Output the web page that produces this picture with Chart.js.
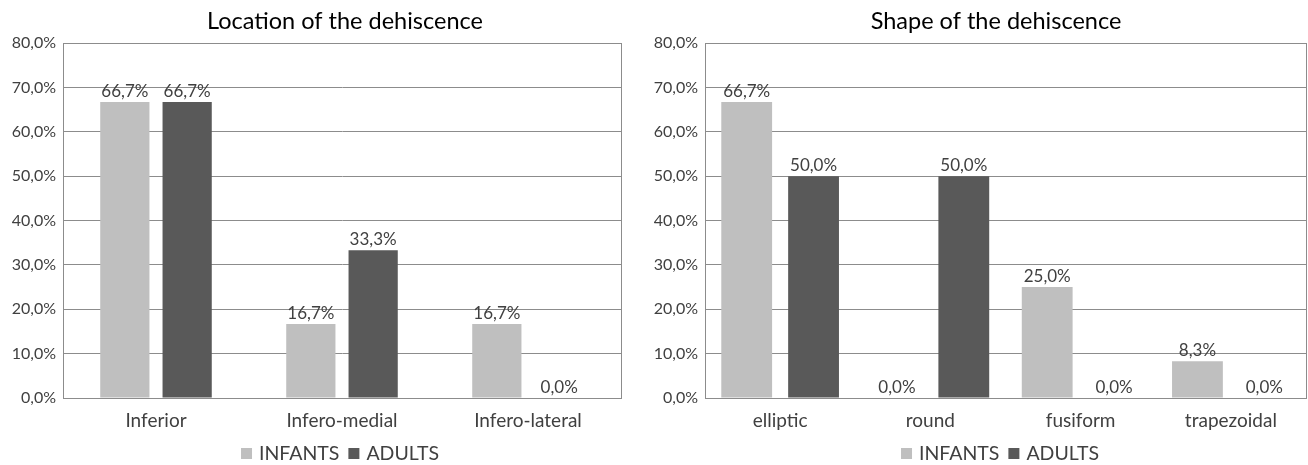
<!DOCTYPE html>
<html>
<head>
<meta charset="utf-8">
<script src="https://cdn.jsdelivr.net/npm/chart.js@4/dist/chart.umd.min.js"></script>
<style>
  html, body { margin: 0; padding: 0; background: #ffffff; }
  #wrap { display: flex; width: 1308px; height: 465px; }
  .box { position: relative; width: 654px; height: 465px; }
</style>
</head>
<body>
<div id="wrap">
  <div class="box"><canvas id="locChart"></canvas></div>
  <div class="box"><canvas id="shapeChart"></canvas></div>
</div>
<script>
// Location of the dehiscence
const locationCategories = ['Inferior', 'Infero-medial', 'Infero-lateral'];
const locationInfants = [66.7, 16.7, 16.7];
const locationAdults = [66.7, 33.3, 0.0];

// Shape of the dehiscence
const shapeCategories = ['elliptic', 'round', 'fusiform', 'trapezoidal'];
const shapeInfants = [66.7, 0.0, 25.0, 8.3];
const shapeAdults = [50.0, 50.0, 0.0, 0.0];

const seriesNames = ['INFANTS', 'ADULTS'];
const yTickValues = [0, 10, 20, 30, 40, 50, 60, 70, 80];

const FONT = 'Lato, "Open Sans", sans-serif';
const TEXT = '#404040';
const GRID = '#8c8c8c';
const INFANT_COLOR = '#bfbfbf';
const ADULT_COLOR = '#595959';

const pct = v => v.toFixed(1).replace('.', ',') + '%';

// Value labels written above each bar
const valueLabels = {
  id: 'valueLabels',
  afterDatasetsDraw(chart) {
    const ctx = chart.ctx;
    ctx.save();
    ctx.font = '17px ' + FONT;
    ctx.fillStyle = TEXT;
    ctx.textAlign = 'center';
    ctx.textBaseline = 'alphabetic';
    chart.data.datasets.forEach((ds, i) => {
      const meta = chart.getDatasetMeta(i);
      meta.data.forEach((bar, j) => {
        ctx.fillText(pct(ds.data[j]), bar.x, bar.y - 5);
      });
    });
    ctx.restore();
  }
};

// Frame around the plotting area
const plotFrame = {
  id: 'plotFrame',
  afterDraw(chart) {
    const a = chart.chartArea;
    const ctx = chart.ctx;
    ctx.save();
    ctx.strokeStyle = GRID;
    ctx.lineWidth = 1;
    ctx.strokeRect(Math.round(a.left) + 0.5, Math.round(a.top) + 0.5,
                   Math.round(a.right - a.left), Math.round(a.bottom - a.top));
    ctx.restore();
  }
};

// Chart title and series key (placed at fixed centres)
const headerAndKey = {
  id: 'headerAndKey',
  afterDraw(chart, args, o) {
    const ctx = chart.ctx;
    ctx.save();
    ctx.fillStyle = '#000000';
    ctx.font = '23.5px ' + FONT;
    ctx.textAlign = 'center';
    ctx.textBaseline = 'alphabetic';
    ctx.fillText(o.title, o.titleX, 29);

    ctx.font = '19.5px ' + FONT;
    ctx.textAlign = 'left';
    const box = 11, gapText = 7, gapItem = 9;
    const items = chart.data.datasets.map(ds => ({
      text: ds.label, color: ds.backgroundColor, w: ctx.measureText(ds.label).width
    }));
    let total = 0;
    items.forEach((it, i) => { total += box + gapText + it.w + (i < items.length - 1 ? gapItem : 0); });
    let x = o.keyX - total / 2;
    const base = 460;
    items.forEach(it => {
      ctx.fillStyle = it.color;
      ctx.fillRect(x, base - 12, box, box);
      x += box + gapText;
      ctx.fillStyle = TEXT;
      ctx.fillText(it.text, x, base);
      x += it.w + gapItem;
    });
    ctx.restore();
  }
};

function makeChart(id, title, cats, infants, adults, opts) {
  return new Chart(document.getElementById(id), {
    type: 'bar',
    data: {
      labels: cats,
      datasets: [
        { label: seriesNames[0], data: infants, backgroundColor: INFANT_COLOR,
          categoryPercentage: opts.cp, barPercentage: opts.bp },
        { label: seriesNames[1], data: adults, backgroundColor: ADULT_COLOR,
          categoryPercentage: opts.cp, barPercentage: opts.bp }
      ]
    },
    options: {
      responsive: false,
      animation: false,
      devicePixelRatio: 1,
      layout: { padding: { left: 0, right: opts.padRight, top: 43, bottom: 27 } },
      plugins: {
        tooltip: { enabled: false },
        title: { display: false },
        legend: { display: false },
        headerAndKey: { title: title, titleX: opts.titleX, keyX: opts.keyX }
      },
      scales: {
        x: {
          afterFit(scale) { scale.height = 40; },
          grid: { display: false },
          border: { display: true, color: GRID },
          ticks: { color: TEXT, font: { family: FONT, size: 19 }, padding: 3 }
        },
        y: {
          min: 0, max: 80,
          afterBuildTicks(scale) { scale.ticks = yTickValues.map(v => ({ value: v })); },
          afterFit(scale) { scale.width = opts.axisWidth; },
          grid: { color: GRID, drawTicks: false },
          border: { display: true, color: GRID },
          ticks: { color: TEXT, font: { family: FONT, size: 16 }, padding: 7,
                   callback: v => pct(v) }
        }
      }
    },
    plugins: [valueLabels, plotFrame, headerAndKey]
  });
}

function sizeCanvas(id) {
  const c = document.getElementById(id);
  c.width = 654; c.height = 465;
  c.style.width = '654px'; c.style.height = '465px';
}
sizeCanvas('locChart');
sizeCanvas('shapeChart');

makeChart('locChart', 'Location of the dehiscence', locationCategories,
  locationInfants, locationAdults,
  { cp: 0.67, bp: 0.79, axisWidth: 63, padRight: 33, titleX: 345, keyX: 340 });
makeChart('shapeChart', 'Shape of the dehiscence', shapeCategories,
  shapeInfants, shapeAdults,
  { cp: 0.89, bp: 0.76, axisWidth: 51, padRight: 2, titleX: 342, keyX: 346 });
</script>
</body>
</html>
